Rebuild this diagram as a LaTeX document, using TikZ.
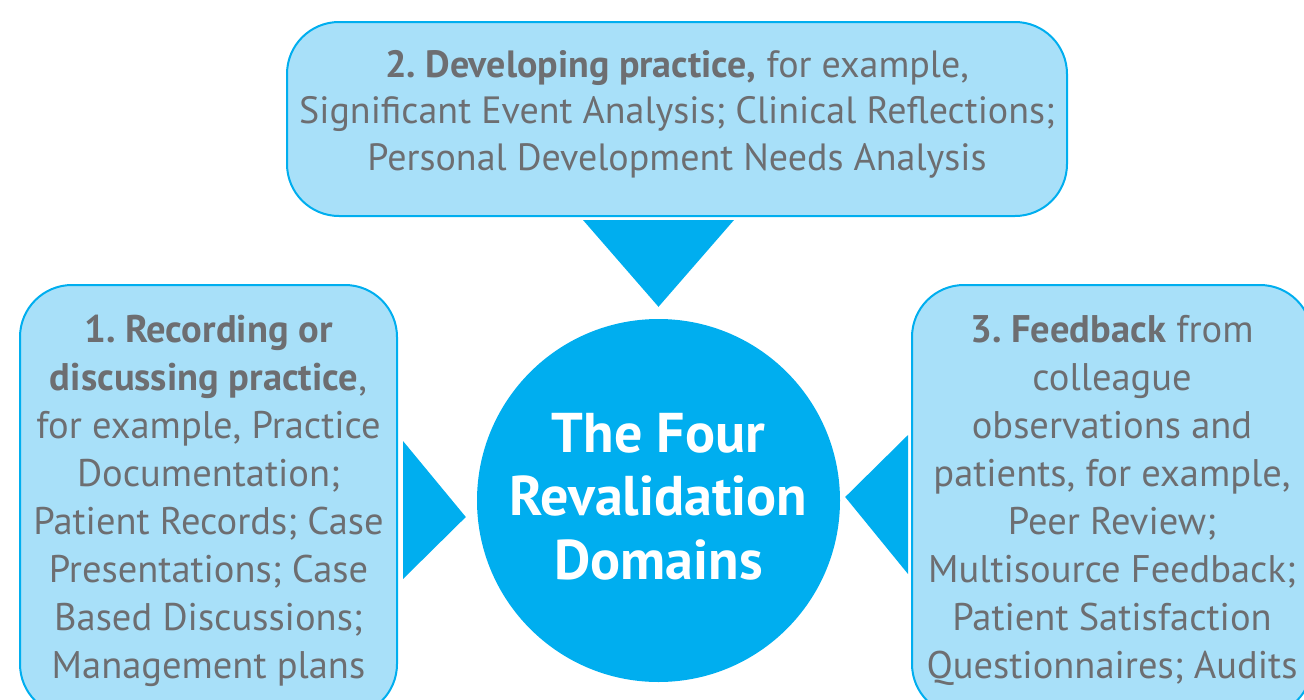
\documentclass[tikz,border=0pt]{standalone}
\usepackage{fontspec}
\setmainfont{PT Sans}
\usetikzlibrary{calc}
\definecolor{revcyan}{HTML}{00AEEF}
\definecolor{revlight}{HTML}{A8E0F9}
\definecolor{revgray}{HTML}{6D6E71}
\begin{document}
\frenchspacing
\begin{tikzpicture}[
        x=1pt, y=-1pt,
        domainbox/.style={draw=revcyan, line width=2pt, fill=revlight, rectangle,
            rounded corners=52pt, align=center, text=revgray, inner sep=0pt,
            font=\fontsize{38.5}{48}\selectfont},
        hub/.style={circle, fill=revcyan, minimum size=363pt, inner sep=0pt,
            align=center, text=white, font=\fontsize{56}{63.5}\selectfont\bfseries},
        pointer/.style={fill=revcyan}
    ]
        \useasboundingbox (0,0) rectangle (1304,699);
        \clip (0,0) rectangle (1304,699);

        % Domaene
        \node[domainbox, minimum width=780pt, minimum height=194pt, text depth=18pt,
              font=\fontsize{38}{46.5}\selectfont] (develop) at (677,119)
            {\textbf{2. Developing practice,} for example,\\
             Significant Event Analysis; Clinical Reflections;\\
             Personal Development Needs Analysis};
        \node[domainbox, minimum width=377pt, minimum height=431pt] (record) at (208.5,500.5)
            {\textbf{1. Recording or}\\
             \textbf{discussing practice},\\
             for example, Practice\\
             Documentation;\\
             Patient Records; Case\\
             Presentations; Case\\
             Based Discussions;\\
             Management plans};
        \node[domainbox, minimum width=400pt, minimum height=431pt] (feedback) at (1112,500.5)
            {\textbf{3. Feedback} from\\
             colleague\\
             observations and\\
             patients, for example,\\
             Peer Review;\\
             Multisource Feedback;\\
             Patient Satisfaction\\
             Questionnaires; Audits};

        % Mitte
        \node[hub, text depth=9pt] (core) at (658.5,500.5) {The Four\\Revalidation\\Domains};

        % Dreiecke zur Mitte
        \fill[pointer] ($(develop.south -| core.north)+(-75.5,3)$) -- ++(151,0)
            -- ($(core.north)+(0,-12)$) -- cycle;
        \fill[pointer] ($(record.east)+(5,-59.5)$) -- ($(record.east)+(5,78.5)$)
            -- ($(core.west)+(-11,16.5)$) -- cycle;
        \fill[pointer] ($(feedback.west)+(-3,-65.5)$) -- ($(feedback.west)+(-3,73.5)$)
            -- ($(core.east)+(5,-3.5)$) -- cycle;

    \end{tikzpicture}
\end{document}
